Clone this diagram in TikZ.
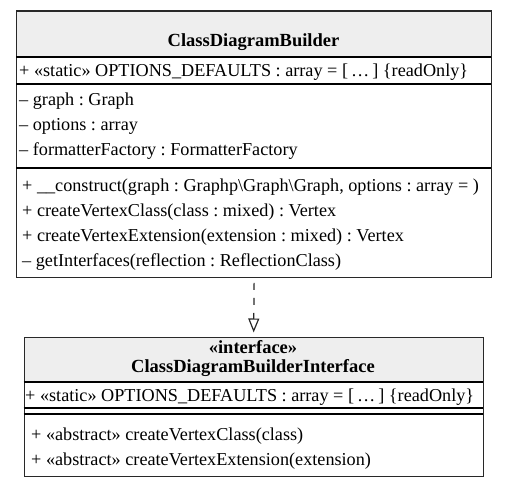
\documentclass[tikz,border=0pt]{standalone}
\usepackage{fontspec}
\setmainfont{Liberation Serif}
\usetikzlibrary{arrows.meta}
\definecolor{hdrgray}{RGB}{238,238,238}
\definecolor{edgegray}{RGB}{40,40,40}
\tikzset{
  umlbox/.style={draw=edgegray, line width=1.3pt, inner sep=0pt, anchor=north west},
  sepline/.style={draw=black, line width=1.7pt},
  rowtext/.style={inner sep=0pt, anchor=base west, font=\fontsize{18.2}{22}\selectfont\frenchspacing},
  hdrtext/.style={inner sep=0pt, anchor=base, font=\fontsize{18.5}{22}\selectfont\bfseries},
  realizes/.style={draw=edgegray, line width=1.2pt, dash pattern=on 7pt off 8pt, dash phase=10pt,
    -{Triangle[open, length=14pt, width=11pt, line width=1.2pt]}, shorten >=4pt}
}
\begin{document}
\frenchspacing
\begin{tikzpicture}[x=1pt,y=-1pt]
\useasboundingbox (0,0) rectangle (507,487);
% ---------- ClassDiagramBuilder ----------
\fill[hdrgray] (16,10.5) rectangle (491,57);
\node[umlbox, minimum width=475pt, minimum height=266pt] (cdb) at (16,10.5) {};
\draw[sepline] (16,57) -- (491,57);
\draw[sepline] (16,84) -- (491,84);
\draw[sepline] (16,168) -- (491,168);
\node[hdrtext] (cdbname) at (253.5,47) {ClassDiagramBuilder};
\node[rowtext] (cdbc) at (19,77) {+ «static» OPTIONS\_DEFAULTS : array = [\,…\,] \{readOnly\}};
\node[rowtext] (cdba1) at (19,106) {– graph : Graph};
\node[rowtext] (cdba2) at (19,131) {– options : array};
\node[rowtext] (cdba3) at (19,156) {– formatterFactory : FormatterFactory};
\node[rowtext] (cdbm1) at (22,191) {+ \_\_construct(graph : Graphp\textbackslash Graph\textbackslash Graph, options : array = )};
\node[rowtext] (cdbm2) at (22,216) {+ createVertexClass(class : mixed) : Vertex};
\node[rowtext] (cdbm3) at (22,241) {+ createVertexExtension(extension : mixed) : Vertex};
\node[rowtext] (cdbm4) at (22,266) {– getInterfaces(reflection : ReflectionClass)};
% ---------- ClassDiagramBuilderInterface ----------
\fill[hdrgray] (23.5,336.5) rectangle (482.5,382);
\node[umlbox, minimum width=459pt, minimum height=139pt] (cdbi) at (23.5,336.5) {};
\draw[sepline] (23.5,382) -- (482.5,382);
\draw[sepline] (23.5,408) -- (482.5,408);
\draw[sepline] (23.5,414) -- (482.5,414);
\node[hdrtext] (cdbistereo) at (253,353) {«interface»};
\node[hdrtext] (cdbiname) at (253,372) {ClassDiagramBuilderInterface};
\node[rowtext] (cdbic) at (25,401) {+ «static» OPTIONS\_DEFAULTS : array = [\,…\,] \{readOnly\}};
\node[rowtext] (cdbim1) at (31,440) {+ «abstract» createVertexClass(class)};
\node[rowtext] (cdbim2) at (31,465) {+ «abstract» createVertexExtension(extension)};
% ---------- realization ----------
\draw[realizes] (cdb.south) -- (cdbi.north);
\end{tikzpicture}
\end{document}
